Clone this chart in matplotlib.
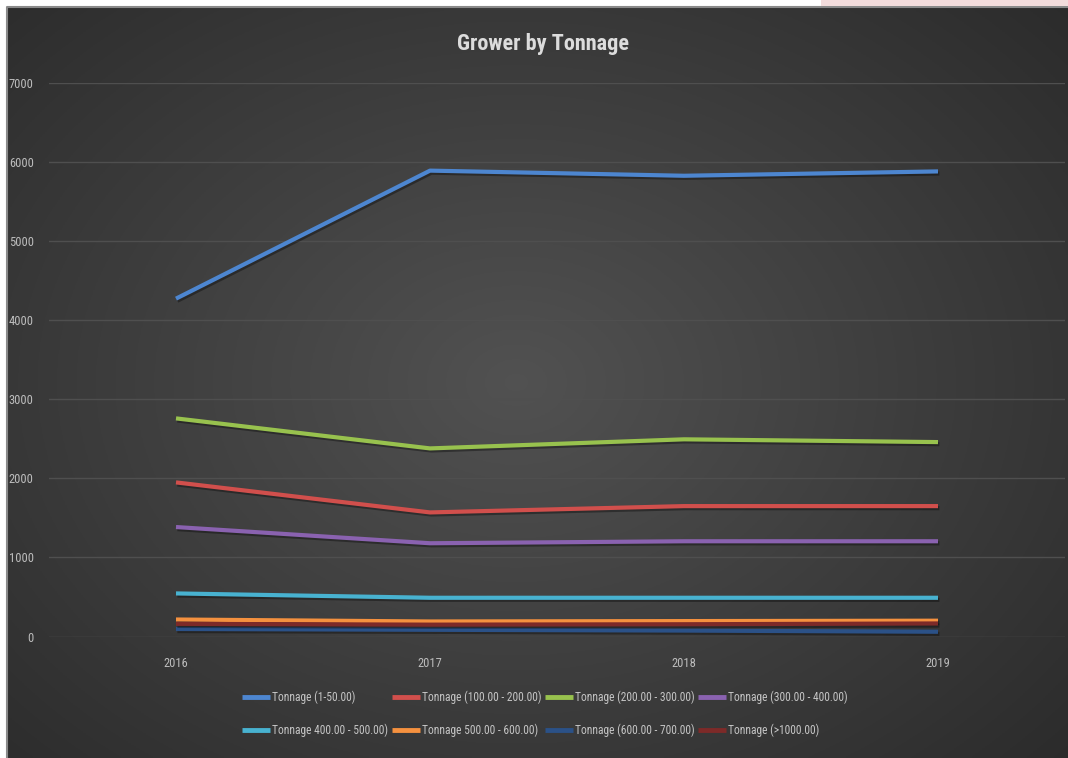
import numpy as np
import matplotlib
matplotlib.use("Agg")
import matplotlib.pyplot as plt
import matplotlib.patheffects as pe
from matplotlib import font_manager
from matplotlib.patches import Rectangle

years = ["2016", "2017", "2018", "2019"]
labels = [
    "Tonnage (1-50.00)",
    "Tonnage (100.00 - 200.00)",
    "Tonnage (200.00 - 300.00)",
    "Tonnage (300.00 - 400.00)",
    "Tonnage 400.00 - 500.00)",
    "Tonnage 500.00 - 600.00)",
    "Tonnage (600.00 - 700.00)",
    "Tonnage (>1000.00)",
]
t_1_50 = [4275, 5895, 5830, 5885]
t_100_200 = [1950, 1570, 1650, 1650]
t_200_300 = [2760, 2380, 2495, 2460]
t_300_400 = [1385, 1180, 1205, 1205]
t_400_500 = [545, 490, 490, 490]
t_500_600 = [215, 190, 195, 200]
t_600_700 = [95, 85, 75, 60]
t_over_1000 = [160, 150, 155, 165]
series = [t_1_50, t_100_200, t_200_300, t_300_400,
          t_400_500, t_500_600, t_600_700, t_over_1000]
colors = ["#4d86d0", "#d14f4c", "#98c24e", "#8a62b0",
          "#48b2d0", "#f5913f", "#2b5187", "#7d2a28"]

# pick a narrow face if one is installed
names = {f.name for f in font_manager.fontManager.ttflist}
narrow = [n for n in ["Liberation Sans Narrow", "Roboto Condensed",
                      "Open Sans Condensed", "DejaVu Sans Condensed"] if n in names]
plt.rcParams["font.family"] = narrow + ["DejaVu Sans"]
plt.rcParams["font.stretch"] = "condensed"

W, H = 1068, 758
fig = plt.figure(figsize=(W / 100, H / 100), dpi=100, facecolor="white")

# dark chart panel with a soft radial gradient
bg = fig.add_axes([7 / W, 0, (W - 7) / W, (H - 7) / H])
bg.set_axis_off()
yy, xx = np.mgrid[0:1:300j, 0:1:420j]
r = np.sqrt(((xx - 0.48) / 0.75) ** 2 + ((yy - 0.5) / 0.8) ** 2)
shade = np.clip(0.32 - 0.16 * r, 0.16, 0.32)
bg.imshow(np.dstack([shade] * 3), extent=[0, 1, 0, 1], aspect="auto", origin="lower")
bg.set_xlim(0, 1)
bg.set_ylim(0, 1)
bg.plot([0, 0, 1], [0, 1, 1], color="#8a8a8a", lw=1.5, transform=bg.transAxes, clip_on=False)
fig.patches.append(Rectangle((821 / W, (H - 6) / H), (W - 821) / W, 6 / H,
                             transform=fig.transFigure, facecolor="#f3dcdc",
                             edgecolor="none"))

ax = fig.add_axes([49 / W, 121.5 / H, 1016 / W, 553.2 / H])
ax.patch.set_alpha(0)
x = np.arange(len(years))
lines = []
for vals, lab, c in zip(series, labels, colors):
    ln, = ax.plot(x, vals, color=c, lw=3, label=lab, solid_capstyle="butt",
                  path_effects=[pe.SimpleLineShadow(offset=(1.0, -1.5), alpha=0.35),
                                pe.Normal()])
    lines.append(ln)

ax.set_xlim(-0.5, 3.5)
ax.set_ylim(0, 7000)
ax.set_yticks(range(0, 7001, 1000))
ax.set_xticks(x)
ax.set_xticklabels(years)
ax.yaxis.grid(True, color="#4f4f4f", lw=1)
ax.set_axisbelow(True)
for s in ax.spines.values():
    s.set_visible(False)
ax.tick_params(length=0, colors="#bdbdbd", labelsize=9)
ax.tick_params(axis="x", pad=15)
ax.tick_params(axis="y", pad=11)

fig.text(543 / W, 1 - 44 / H, "Grower by Tonnage", ha="center", va="center",
         fontsize=16, fontweight="semibold", color="#dcdcdc")

# legend fills row by row, as in the original
order = [0, 4, 1, 5, 2, 6, 3, 7]
leg = fig.legend([lines[i] for i in order], [labels[i] for i in order],
                 loc="center", bbox_to_anchor=(545 / W, 1 - 714 / H), ncol=4,
                 frameon=False, fontsize=8.3, labelcolor="#c4c4c4",
                 handlelength=2.4, handletextpad=0.2, columnspacing=0.3,
                 labelspacing=1.7)
for h in leg.get_lines():
    h.set_linewidth(3.5)
    h.set_path_effects([])

fig.savefig("out.png", dpi=100, facecolor="white")
